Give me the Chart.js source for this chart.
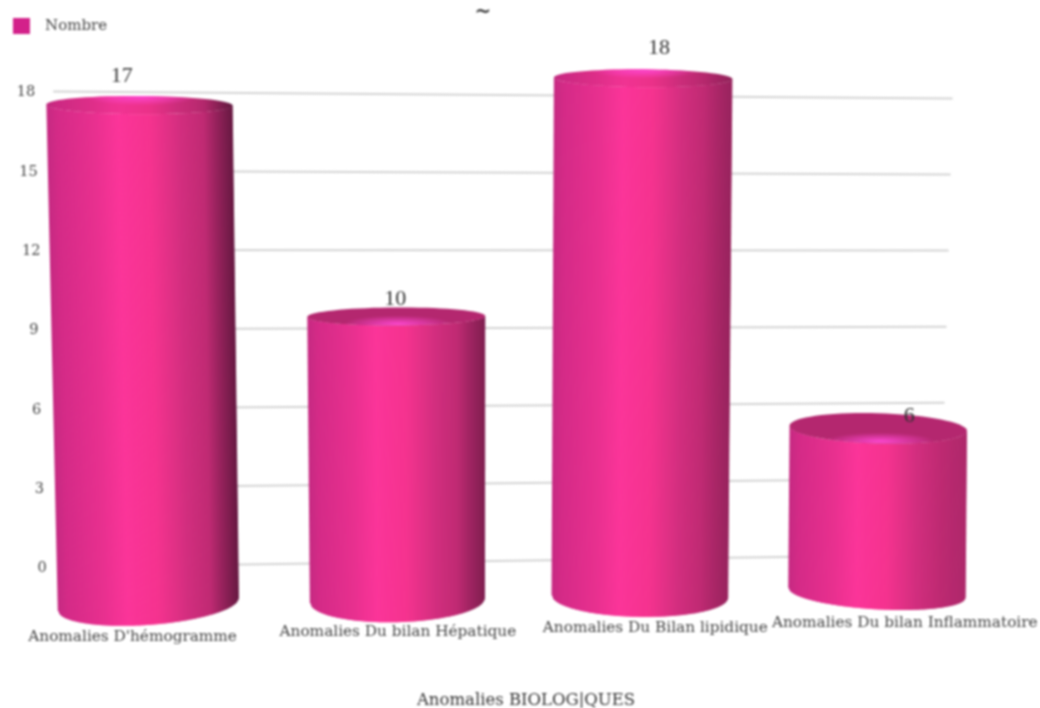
<!DOCTYPE html>
<html><head><meta charset="utf-8">
<style>html,body{margin:0;padding:0;background:#fff}canvas{display:block;filter:blur(.8px)}</style>
<script src="https://cdn.jsdelivr.net/npm/chart.js@4/dist/chart.umd.min.js"></script>
</head><body><canvas id="c" width="1040" height="708"></canvas>
<script>
const categories=["Anomalies D'hémogramme","Anomalies Du bilan Hépatique","Anomalies Du Bilan lipidique","Anomalies Du bilan Inflammatoire"];
const values=[17,10,18,6];
const seriesName="Nombre";
const axisTitle="Anomalies BIOLOG|QUES";
const FONT='"DejaVu Serif"';
const clamp=(a,l,h)=>Math.min(h,Math.max(l,a));
// picture's perspective, applied to whatever the Chart.js scales return
const lean=x=>clamp(5.5e-5*(470-x),-.008,.03);
const warp=(x,y)=>[x+lean(x)*(y-350), y-4.6e-5*(x-500)*(y-262)];
const nearX=x=>{const u=x-503;return 520.4+1.095*u-7.5e-5*u*u;};
const nearY=y=>{const t=(561.5-y)/466;return 599+(y-561.5)*1.123+30*t*(1-t)+2*t;};
const stops=[[0,[198,42,130]],[.05,[212,43,135]],[.25,[232,48,143]],[.38,[251,53,153]],[.55,[245,51,143]],[.72,[209,46,126]],[.85,[190,42,114]],[1,[180,42,110]]];
function rgb(t,d){
  let c=stops[stops.length-1][1];
  for(let i=1;i<stops.length;i++){if(t<=stops[i][0]){const a=stops[i-1],b=stops[i],f=(t-a[0])/(b[0]-a[0]);c=a[1].map((v,k)=>v+(b[1][k]-v)*f);break;}}
  const e=clamp((t-.84)/.16,0,1)*d;
  return c.map((v,k)=>Math.round(v+([100,24,64][k]-v)*e));
}
const css=(c,m=1)=>'rgb('+c.map(v=>Math.round(v*m)).join(',')+')';
function cylinder(ctx,bar){
  const mid=nearX(bar.x);
  const rx=bar.width/2*(1.075+Math.max(0,400-mid)*1.5e-4);
  const yt=nearY(bar.y),yb=nearY(bar.base);
  const rt=Math.max(9,(yt-200)/15);
  const rb=22-5*Math.pow((mid-400)/480,2);
  const tilt=1.7e-4*(mid-450);
  const ttop=tilt*Math.pow(clamp(yt/600,0,1),2);
  const d=clamp(1-(mid-144)/800,0,1);
  const N=120;
  const fr=(u,y,r,tl)=>warp(mid+u*rx,y+r*Math.sqrt(Math.max(0,1-u*u))+tl*u*rx);
  for(let i=0;i<N;i++){
    const u0=-1+2*i/N,u1=Math.min(1,-1+2*(i+1)/N+.012);
    const a=fr(u0,yt,rt,ttop),b=fr(u1,yt,rt,ttop),c=fr(u1,yb,rb,tilt),e=fr(u0,yb,rb,tilt);
    ctx.fillStyle=css(rgb((u0+1)/2,d));
    ctx.beginPath();ctx.moveTo(a[0],a[1]);ctx.lineTo(b[0],b[1]);ctx.lineTo(c[0],c[1]);ctx.lineTo(e[0],e[1]);ctx.closePath();ctx.fill();
  }
  // top face
  ctx.save();
  ctx.beginPath();
  for(let i=0;i<=72;i++){const th=i/72*Math.PI*2,u=Math.cos(th),p=warp(mid+u*rx,yt+rt*Math.sin(th)+ttop*u*rx);i?ctx.lineTo(p[0],p[1]):ctx.moveTo(p[0],p[1]);}
  ctx.closePath();
  const high=yt<200;
  const l=warp(mid-rx,yt),r=warp(mid+rx,yt);
  const lg=ctx.createLinearGradient(l[0],0,r[0],0);
  for(let t=0;t<=1.001;t+=.05){lg.addColorStop(Math.min(t,1),css(rgb(Math.min(t,1),d),.96));}
  ctx.fillStyle=high?lg:'#b4276f';ctx.fill();ctx.clip();
  const c=warp(mid+rx*.02,yt+(high?-rt*.95:rt*.85));
  ctx.translate(c[0],c[1]);ctx.scale(1,.16);
  const g=ctx.createRadialGradient(0,0,0,0,0,rx*.62);
  g.addColorStop(0,'rgba(252,70,205,1)');g.addColorStop(1,'rgba(252,70,205,0)');
  ctx.fillStyle=g;ctx.fillRect(-rx*2,-400,rx*4,800);
  ctx.restore();
}
const perspective={
  id:'perspective',
  beforeLayout(chart){
    const l=chart.legend;
    if(l&&!l._extra){l._extra=true;const f=l.fit.bind(l);l.fit=()=>{f();l.height+=51;};}
  },
  beforeDatasetsDraw(chart){
    const ctx=chart.ctx,y=chart.scales.y,a=chart.chartArea;
    ctx.save();ctx.strokeStyle='#d4d4d4';ctx.lineWidth=2;
    y.ticks.forEach(t=>{
      const py=y.getPixelForValue(t.value),p=warp(a.left,py),q=warp(a.right,py);
      ctx.beginPath();ctx.moveTo(p[0]+4,p[1]);ctx.lineTo(a.right-4-.026*(py-350),q[1]);ctx.stroke();
    });
    ctx.fillStyle='#444';ctx.font='14.5px '+FONT;ctx.textAlign='center';ctx.textBaseline='middle';
    y.ticks.forEach(t=>{
      const p=warp(33,y.getPixelForValue(t.value));
      ctx.fillText(String(t.value),34+.034*(p[1]-330),p[1]+1);
    });
    ctx.restore();
  },
  beforeDatasetDraw(chart,args){
    const ctx=chart.ctx;
    ctx.save();
    chart.getDatasetMeta(args.index).data.forEach(b=>cylinder(ctx,b));
    ctx.restore();
    return false;
  },
  afterDatasetsDraw(chart){
    const ctx=chart.ctx,xs=chart.scales.x,meta=chart.getDatasetMeta(0);
    ctx.save();ctx.textAlign='center';ctx.textBaseline='middle';
    ctx.fillStyle='#333';ctx.font='22px "Liberation Serif"';
    meta.data.forEach((b,i)=>{
      const p=warp(nearX(b.x),nearY(b.y));
      const gap=-30+.0516*(p[1]-79);
      ctx.fillText(String(values[i]),p[0]+.066*(p[0]-410),p[1]+gap);
    });
    ctx.fillStyle='#444';ctx.font='15.3px '+FONT;
    categories.forEach((c,i)=>{
      const n=nearX(xs.getPixelForValue(i)),bx=n+.0505*(n-397)+1.5;
      ctx.fillText(c,bx,637-.018*(bx-132));
    });
    ctx.fillStyle='#333';ctx.font='16.5px '+FONT;
    ctx.fillText(axisTitle,526,701);
    ctx.font='bold 20px '+FONT;ctx.fillText('~',483,13);
    ctx.restore();
  }
};
new Chart(document.getElementById('c'),{
  type:'bar',
  data:{labels:categories,datasets:[{label:seriesName,data:values,backgroundColor:'#d3218a',barPercentage:.9,categoryPercentage:.82}]},
  plugins:[perspective],
  options:{
    responsive:false,animation:false,
    layout:{padding:{left:0,right:90,top:5,bottom:139}},
    plugins:{
      tooltip:{enabled:false},
      legend:{position:'top',align:'start',labels:{boxWidth:17,boxHeight:16,padding:13,color:'#444',font:{family:'DejaVu Serif',size:15},
        generateLabels(chart){return Chart.defaults.plugins.legend.labels.generateLabels(chart).map(l=>Object.assign(l,{text:'\u2002'+l.text}));}}}
    },
    scales:{
      x:{grid:{display:false},border:{display:false},ticks:{display:false}},
      y:{min:0,max:18,ticks:{stepSize:3,display:false},grid:{display:false},border:{display:false},afterFit:s=>{s.width=55;}}
    }
  }
});
</script></body></html>
